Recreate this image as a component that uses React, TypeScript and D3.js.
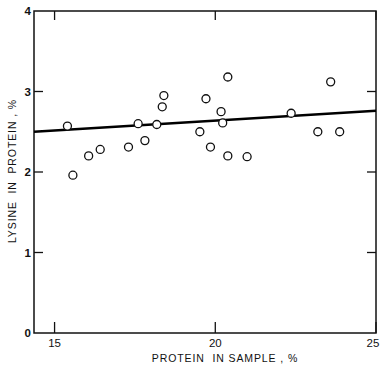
import React from "react";
import * as d3 from "d3";

const proteinInSample = [15.40, 15.57, 16.06, 16.42, 17.30, 17.60, 17.81, 18.18, 18.35, 18.40, 19.52, 19.71, 19.85, 20.18, 20.23, 20.39, 20.39, 20.99, 22.36, 23.19, 23.59, 23.87];
const lysineInProtein = [2.57, 1.96, 2.20, 2.28, 2.31, 2.60, 2.39, 2.59, 2.81, 2.95, 2.50, 2.91, 2.31, 2.75, 2.61, 3.18, 2.20, 2.19, 2.73, 2.50, 3.12, 2.50];
const regressionX = [14.36, 25];
const regressionY = [2.50, 2.76];
const xTicks = [15, 20, 25];
const yTicks = [0, 1, 2, 3, 4];
const xTitle = "PROTEIN  IN SAMPLE , %";
const yTitle = "LYSINE  IN  PROTEIN , %";

export default function App() {
  const W = 381, H = 366;
  const left = 34, right = 376, top = 11, bottom = 333;
  const x = d3.scaleLinear().domain([14.36, 25]).range([left, right]);
  const y = d3.scaleLinear().domain([0, 4]).range([bottom, top]);
  const line = d3.line<number>().x((d) => x(regressionX[d])).y((d) => y(regressionY[d]));
  const font = "'Liberation Sans', 'DejaVu Sans', sans-serif";
  const tl = 9;
  return (
    <svg width={W} height={H} style={{ position: "absolute", left: 0, top: 0, background: "#fff" }}>
      <rect x={left} y={top} width={right - left} height={bottom - top} fill="none" stroke="#111" strokeWidth={1.5} />
      {xTicks.map((t) => (
        <g key={"x" + t}>
          <line x1={x(t)} x2={x(t)} y1={bottom} y2={bottom - 11} stroke="#111" strokeWidth={1.3} />
          <line x1={x(t)} x2={x(t)} y1={top} y2={top + 9} stroke="#111" strokeWidth={1.3} />
          <text x={t === 25 ? x(t) - 3 : x(t)} y={bottom + 14} textAnchor="middle" fontFamily={font} fontSize={11.5} fill="#111">{t}</text>
        </g>
      ))}
      {yTicks.map((t) => (
        <g key={"y" + t}>
          {t > 0 && t < 4 && <line x1={left} x2={left + tl} y1={y(t)} y2={y(t)} stroke="#111" strokeWidth={1.3} />}
          {t > 0 && t < 4 && <line x1={right} x2={right - tl} y1={y(t)} y2={y(t)} stroke="#111" strokeWidth={1.3} />}
          <text x={left - 3} y={y(t) + 4} textAnchor="end" fontFamily={font} fontSize={11.5} fontWeight="bold" fill="#111">{t}</text>
        </g>
      ))}
      <path d={line([0, 1]) || ""} fill="none" stroke="#000" strokeWidth={2.6} />
      {proteinInSample.map((v, i) => (
        <circle key={i} cx={x(v)} cy={y(lysineInProtein[i])} r={4} fill="#fff" stroke="#111" strokeWidth={1.3} />
      ))}
      <text x={225} y={362} textAnchor="middle" fontFamily={font} fontSize={10.5} letterSpacing={0.9} fill="#111" style={{ whiteSpace: "pre" }}>{xTitle}</text>
      <text transform={`translate(16,171) rotate(-90)`} textAnchor="middle" fontFamily={font} fontSize={10.5} letterSpacing={0.9} fill="#111" style={{ whiteSpace: "pre" }}>{yTitle}</text>
    </svg>
  );
}
